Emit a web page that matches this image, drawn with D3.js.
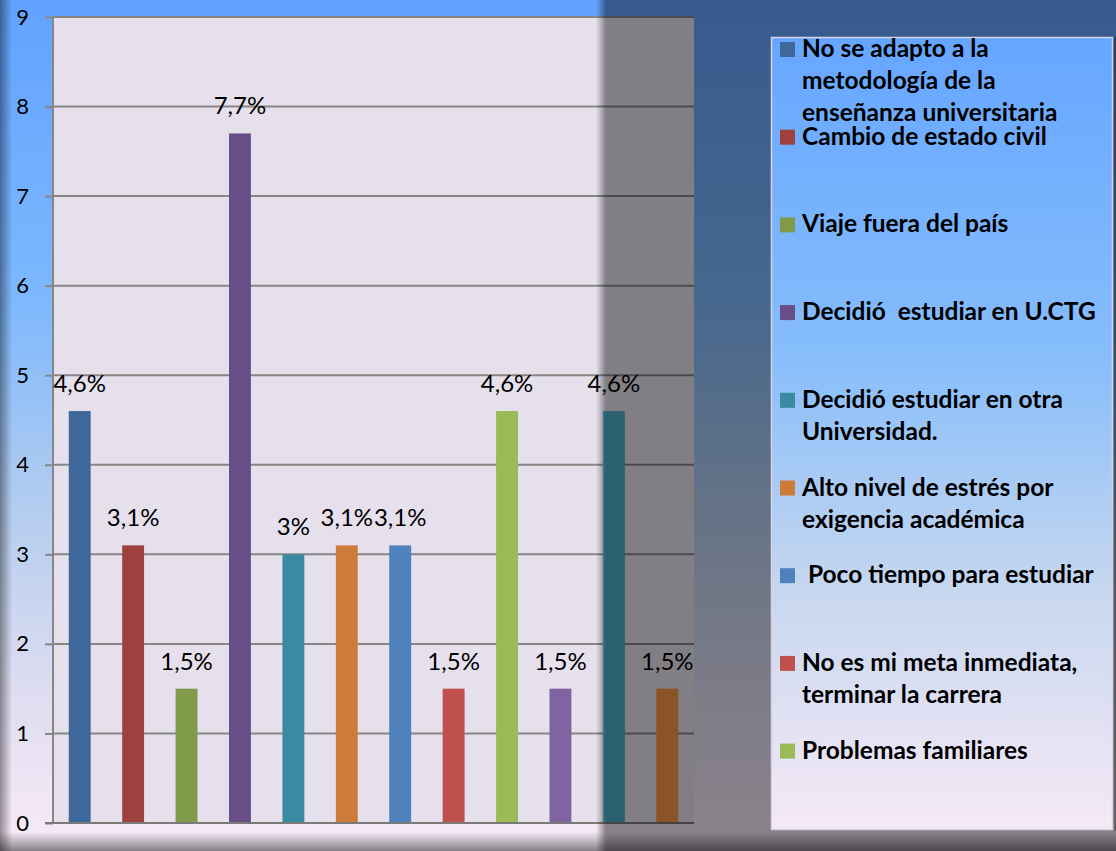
<!DOCTYPE html>
<html>
<head>
<meta charset="utf-8">
<script src="https://cdn.jsdelivr.net/npm/d3@7"></script>
<style>
  body { margin: 0; background: #fff; }
  text { font-family: Lato, "Open Sans", sans-serif; }
</style>
</head>
<body>
<svg width="1116" height="851"></svg>
<script>
// bar values (12 bars, legend only shows the first 9)
var values = [4.6, 3.1, 1.5, 7.7, 3, 3.1, 3.1, 1.5, 4.6, 1.5, 4.6, 1.5];
var valueLabels = ['4,6%', '3,1%', '1,5%', '7,7%', '3%', '3,1%', '3,1%', '1,5%', '4,6%', '1,5%', '4,6%', '1,5%'];
var barColors = ['#3e6899', '#9e413e', '#7f9a48', '#684e86', '#3a8ba1', '#cc7b38',
                 '#4f81bd', '#c0504d', '#9bbb59', '#8064a2', '#4bacc6', '#f79646'];
var legendLabels = [
  ['No se adapto a la', 'metodología de la', 'enseñanza universitaria'],
  ['Cambio de estado civil'],
  ['Viaje fuera del país'],
  ['Decidió  estudiar en U.CTG'],
  ['Decidió estudiar en otra', 'Universidad.'],
  ['Alto nivel de estrés por', 'exigencia académica'],
  [' Poco tiempo para estudiar'],
  ['No es mi meta inmediata,', 'terminar la carrera'],
  ['Problemas familiares']
];
var yTicks = [0, 1, 2, 3, 4, 5, 6, 7, 8, 9];

var svg = d3.select('svg');
var defs = svg.append('defs');

function vGrad(id, stops) {
  var g = defs.append('linearGradient').attr('id', id)
    .attr('x1', 0).attr('y1', 0).attr('x2', 0).attr('y2', 1);
  stops.forEach(function(s) {
    g.append('stop').attr('offset', s[0]).attr('stop-color', s[1]).attr('stop-opacity', s[2] == null ? 1 : s[2]);
  });
}
function hGrad(id, stops) {
  var g = defs.append('linearGradient').attr('id', id)
    .attr('x1', 0).attr('y1', 0).attr('x2', 1).attr('y2', 0);
  stops.forEach(function(s) {
    g.append('stop').attr('offset', s[0]).attr('stop-color', s[1]).attr('stop-opacity', s[2] == null ? 1 : s[2]);
  });
}

vGrad('bg', [[0, '#62a2ff'], [0.35, '#7db8fd'], [0.6, '#b4cdef'], [0.8, '#dcdcf0'], [0.97, '#f5e8f6']]);
vGrad('legendBg', [[0, '#66a6ff'], [0.4, '#86bdfb'], [0.7, '#c7d7ef'], [1, '#f6e9f6']]);
vGrad('shadowBottom', [[0, '#000', 0], [1, '#000', 0.45]]);
hGrad('shadowLeft', [[0, '#000', 0.4], [1, '#000', 0]]);
hGrad('shadowRight', [[0, '#000', 0], [1, '#000', 0.4]]);
hGrad('overlay', [[0, '#000', 0], [1, '#000', 0.44]]);

svg.append('rect').attr('width', 1116).attr('height', 851).attr('fill', 'url(#bg)');

var xScale = d3.scaleBand()
               .domain(d3.range(values.length))
               .range([53, 694])
               .paddingInner(0.59)
               .paddingOuter(0.295);

var yScale = d3.scaleLinear()
               .domain([0, 9])
               .range([823, 17]);

// plot area
svg.append('rect')
   .attr('x', 53).attr('y', 17)
   .attr('width', 641).attr('height', 806)
   .attr('fill', '#e6e0ec');

var yAxis = d3.axisLeft(yScale)
              .tickValues(yTicks)
              .tickSize(8)
              .tickPadding(16);
var gy = svg.append('g')
   .attr('transform', 'translate(53,0)')
   .attr('id', 'yAxis')
   .call(yAxis);
gy.select('.domain').remove();
gy.selectAll('.tick line').attr('stroke', '#868686').attr('stroke-width', 2);
gy.selectAll('.tick text')
  .attr('fill', '#000')
  .style('font-size', '22px');

svg.append('g')
   .selectAll('line.grid')
   .data(yTicks)
   .enter()
   .append('line')
   .attr('class', 'grid')
   .attr('x1', 53).attr('x2', 694)
   .attr('y1', function(d) { return yScale(d); })
   .attr('y2', function(d) { return yScale(d); })
   .attr('stroke', '#868686')
   .attr('stroke-width', 2);

svg.append('line')
   .attr('x1', 53).attr('x2', 53)
   .attr('y1', 17).attr('y2', 823)
   .attr('stroke', '#868686').attr('stroke-width', 2);

svg.selectAll('rect.bar')
   .data(values)
   .enter()
   .append('rect')
   .attr('class', 'bar')
   .attr('x', function(d, i) { return xScale(i); })
   .attr('width', xScale.bandwidth())
   .attr('y', function(d) { return yScale(d); })
   .attr('height', function(d) { return yScale(0) - yScale(d); })
   .style('fill', function(d, i) { return barColors[i]; });

svg.append('line')
   .attr('x1', 45).attr('x2', 694)
   .attr('y1', 823).attr('y2', 823)
   .attr('stroke', '#7a7a7a').attr('stroke-width', 2);

svg.selectAll('text.val')
   .data(values)
   .enter()
   .append('text')
   .attr('class', 'val')
   .attr('x', function(d, i) { return xScale(i) + xScale.bandwidth() / 2; })
   .attr('y', function(d) { return yScale(d) - 19; })
   .attr('text-anchor', 'middle')
   .style('font-size', '24px')
   .attr('fill', '#000')
   .text(function(d, i) { return valueLabels[i]; });

// edge shadows
svg.append('rect').attr('x', 0).attr('y', 0).attr('width', 12).attr('height', 851).attr('fill', 'url(#shadowLeft)');
svg.append('rect').attr('x', 0).attr('y', 832).attr('width', 1116).attr('height', 19).attr('fill', 'url(#shadowBottom)');

// dark overlay on the right side
svg.append('rect').attr('x', 596).attr('y', 0).attr('width', 10).attr('height', 851).attr('fill', 'url(#overlay)');
svg.append('rect').attr('x', 606).attr('y', 0).attr('width', 510).attr('height', 851)
   .attr('fill', '#000').attr('fill-opacity', 0.44);

// legend
svg.append('rect')
   .attr('x', 771.5).attr('y', 37.5)
   .attr('width', 341).attr('height', 792)
   .attr('fill', 'url(#legendBg)')
   .attr('stroke', '#d8d4e6').attr('stroke-width', 1.5);
svg.append('rect').attr('x', 1113).attr('y', 37).attr('width', 3).attr('height', 794).attr('fill', 'url(#shadowRight)');

var legend = svg.selectAll('g.legend')
   .data(legendLabels)
   .enter()
   .append('g')
   .attr('class', 'legend')
   .attr('transform', function(d, i) { return 'translate(780,' + (57 + 87.7 * i) + ')'; });

legend.append('rect')
   .attr('x', 0).attr('y', -15)
   .attr('width', 15).attr('height', 15)
   .style('fill', function(d, i) { return barColors[i]; });

legend.each(function(d) {
  var t = d3.select(this).append('text')
    .attr('x', 22)
    .style('font-size', '24.5px')
    .style('font-weight', 'bold')
    .style('white-space', 'pre')
    .attr('fill', '#000');
  d.forEach(function(line, j) {
    t.append('tspan').attr('x', 22).attr('y', j * 32.2).text(line);
  });
});
</script>
</body>
</html>
